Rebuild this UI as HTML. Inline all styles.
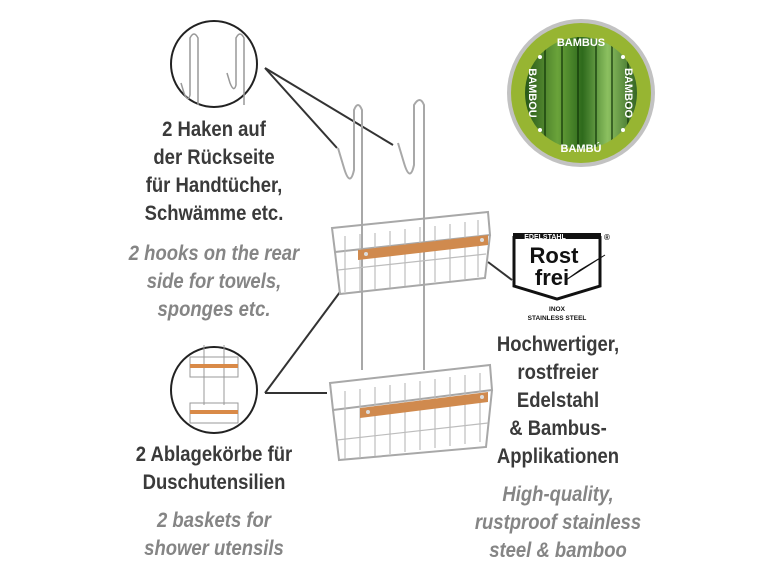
<!DOCTYPE html>
<html><head><meta charset="utf-8"><style>
body{margin:0;width:772px;height:579px;background:#fff;overflow:hidden;position:relative;font-family:"Liberation Sans",sans-serif}
.t{position:absolute;width:300px;text-align:center;font-size:21px;line-height:28px;white-space:nowrap;transform:scaleX(.88)}
.b{font-weight:bold;color:#3a3a3a}
.i{font-style:italic;font-weight:bold;color:#858585}
svg{position:absolute;left:0;top:0}
</style></head><body>
<svg width="772" height="579" viewBox="0 0 772 579">
<defs>
<linearGradient id="bb" x1="0" x2="1"><stop offset="0" stop-color="#1e4d14"/><stop offset=".3" stop-color="#6aa33a"/><stop offset=".5" stop-color="#2e6a1c"/><stop offset=".7" stop-color="#8cc060"/><stop offset="1" stop-color="#1e4d14"/></linearGradient>
<clipPath id="cc"><circle cx="581" cy="93" r="56"/></clipPath>
</defs>
<circle cx="581" cy="93" r="74" fill="#c2c2c2"/>
<circle cx="581" cy="93" r="70" fill="#97b532"/>
<g clip-path="url(#cc)"><rect x="520" y="30" width="125" height="130" fill="url(#bb)"/>
<g stroke="#0f3308" stroke-width="2" opacity=".6"><line x1="545" y1="30" x2="545" y2="160"/><line x1="562" y1="30" x2="562" y2="160"/><line x1="578" y1="30" x2="578" y2="160"/><line x1="596" y1="30" x2="596" y2="160"/><line x1="612" y1="30" x2="612" y2="160"/><line x1="628" y1="30" x2="628" y2="160"/></g></g>
<g fill="#fff" font-family="Liberation Sans" font-weight="bold" font-size="11" text-anchor="middle">
<text x="581" y="46">BAMBUS</text>
<text x="581" y="152">BAMBÚ</text>
<text transform="translate(629,93) rotate(90)" x="0" y="4">BAMBOO</text>
<text transform="translate(533,93) rotate(90)" x="0" y="4">BAMBOU</text>
<circle cx="540" cy="57" r="2"/><circle cx="623" cy="57" r="2"/><circle cx="540" cy="130" r="2"/><circle cx="623" cy="130" r="2"/>
</g>
<circle cx="214" cy="64" r="43" fill="none" stroke="#222" stroke-width="2"/>
<g fill="none" stroke="#999" stroke-width="1.5">
<path d="M198 105 V38 q-4-8-8 0 V95 q-2 8-6 -2 l-3-10"/>
<path d="M244 105 V38 q-4-8-8 0 V85 q-2 8-6 -2 l-3-10"/>
</g>
<line x1="265" y1="68" x2="337" y2="148" stroke="#333" stroke-width="2"/>
<line x1="265" y1="68" x2="393" y2="145" stroke="#333" stroke-width="2"/>
<circle cx="214" cy="390" r="43" fill="none" stroke="#222" stroke-width="2"/>
<g stroke="#999" stroke-width="1" fill="none"><rect x="190" y="357" width="48" height="20"/><rect x="190" y="403" width="48" height="20"/><line x1="204" y1="345" x2="204" y2="405"/><line x1="224" y1="345" x2="224" y2="405"/></g>
<rect x="190" y="364" width="48" height="4" fill="#d98a48"/><rect x="190" y="410" width="48" height="4" fill="#d98a48"/>
<line x1="265" y1="393" x2="340" y2="292" stroke="#333" stroke-width="2"/>
<line x1="265" y1="393" x2="327" y2="393" stroke="#333" stroke-width="2"/>
<line x1="488" y1="262" x2="512" y2="280" stroke="#333" stroke-width="2"/>
<g fill="none" stroke="#a8a8a8" stroke-width="2">
<path d="M362 370 V110 q-4-10-8 0 V170 q-4 18-10 -2 l-6-20"/>
<path d="M424 370 V105 q-4-10-10 0 V165 q-4 18-10 -2 l-6-20"/>
<path d="M332 228 L488 212 L490 235 L335 252 Z"/>
<path d="M335 252 l5 42 L485 278 L490 235"/>
<path d="M330 383 L490 365 L492 390 L333 410 Z"/>
<path d="M333 410 l6 50 L486 447 L492 390"/>
</g>
<g stroke="#bdbdbd" stroke-width="1.2">
<path d="M345 236v56M360 234v57M375 233v56M390 231v57M405 229v57M420 227v57M435 226v56M450 224v57M465 222v57M478 220v57"/>
<path d="M345 391v68M360 389v69M375 387v69M390 385v69M405 383v69M420 381v69M435 379v69M450 377v69M465 375v69M480 373v69"/>
<path d="M338 270 L486 254 M337 440 L488 423" />
</g>
<path d="M358 250 L488 235 L488 245 L358 260 Z" fill="#d08a4e"/>
<path d="M360 408 L488 392 L488 402 L360 418 Z" fill="#d08a4e"/>
<g fill="#ddd"><circle cx="366" cy="254" r="2"/><circle cx="482" cy="240" r="2"/><circle cx="368" cy="412" r="2"/><circle cx="482" cy="397" r="2"/></g>
<path d="M514 236 V286 L557 299 L600 286 V236" fill="none" stroke="#111" stroke-width="3"/>
<rect x="513" y="233" width="88" height="6" fill="#111"/>
<g font-family="Liberation Sans" font-weight="bold" fill="#111" text-anchor="middle">
<text x="545" y="239" font-size="7" fill="#fff">EDELSTAHL</text>
<text x="607" y="240" font-size="8">®</text>
<text x="554" y="263" font-size="22">Rost</text>
<text x="552" y="285" font-size="22">frei</text>
<text x="557" y="311" font-size="6.5">INOX</text>
<text x="557" y="320" font-size="6.5">STAINLESS STEEL</text>
</g>
<path d="M566 280 L605 255 L580 270 Z" fill="#111" stroke="#111"/>
</svg>
<div class="t b" style="left:64px;top:116px">2 Haken auf<br>der Rückseite<br>für Handtücher,<br>Schwämme etc.</div>
<div class="t i" style="left:64px;top:240px">2 hooks on the rear<br>side for towels,<br>sponges etc.</div>
<div class="t b" style="left:64px;top:441px">2 Ablagekörbe für<br>Duschutensilien</div>
<div class="t i" style="left:64px;top:507px">2 baskets for<br>shower utensils</div>
<div class="t b" style="left:408px;top:331px">Hochwertiger,<br>rostfreier<br>Edelstahl<br>&amp; Bambus-<br>Applikationen</div>
<div class="t i" style="left:408px;top:481px">High-quality,<br>rustproof stainless<br>steel &amp; bamboo</div>
</body></html>
